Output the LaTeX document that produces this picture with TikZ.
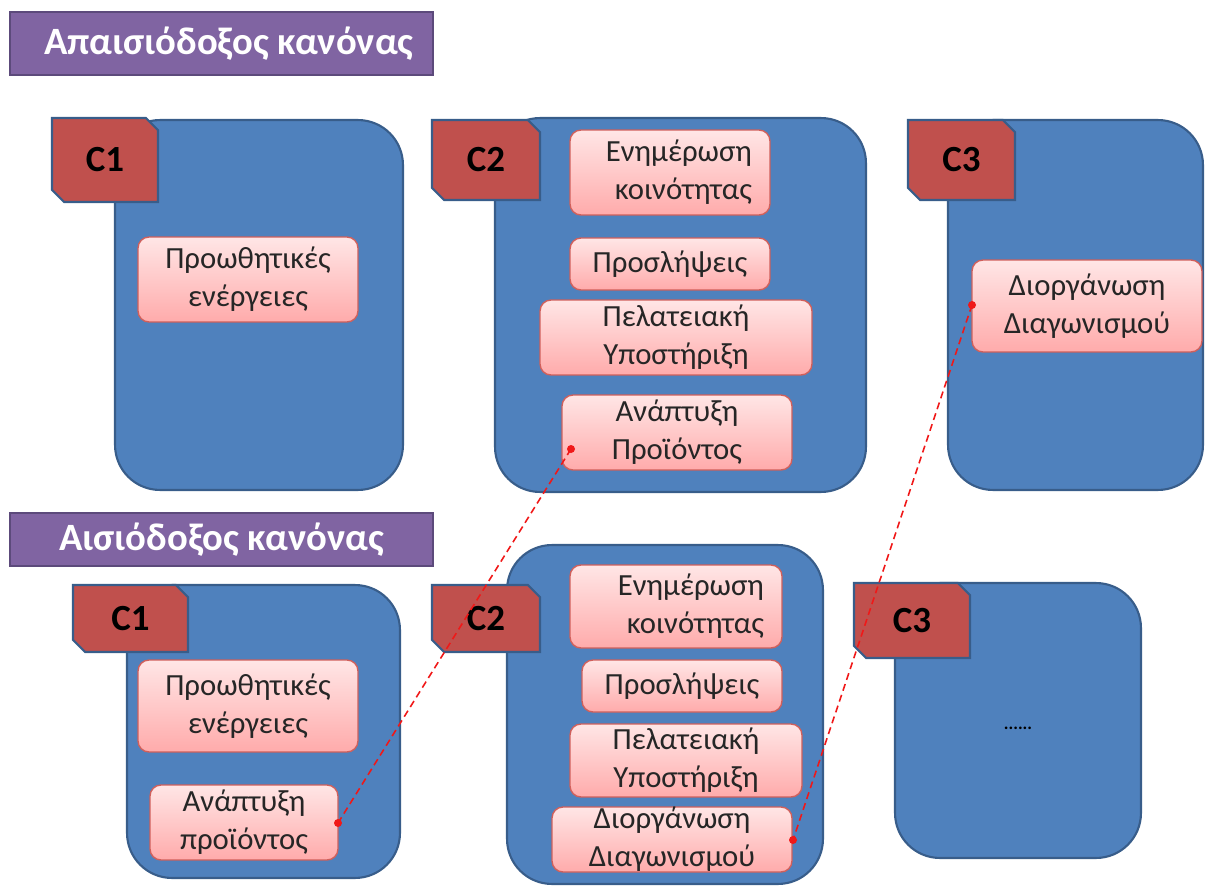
\documentclass[tikz,border=0pt]{standalone}
\usepackage{fontspec}
\setmainfont{Carlito}
\usetikzlibrary{shapes.misc}
\definecolor{boxblue}{HTML}{4F81BD}
\definecolor{boxedge}{HTML}{385D8A}
\definecolor{tagred}{HTML}{C0504D}
\definecolor{titlepurple}{HTML}{8064A2}
\definecolor{titleedge}{HTML}{5C4A7B}
\definecolor{pinktop}{HTML}{FFE6E6}
\definecolor{pinkbot}{HTML}{FFABAB}
\definecolor{pinkedge}{HTML}{D0605C}
\definecolor{linkred}{HTML}{F01818}
\begin{document}
\begin{tikzpicture}[x=0.02cm,y=-0.02cm,
  region/.style={rectangle, draw=boxedge, fill=boxblue, line width=1.2pt, rounded corners=0.9cm},
  tagbox/.style={chamfered rectangle, chamfered rectangle corners={north east,south west},
    chamfered rectangle xsep=0.12cm, chamfered rectangle ysep=0.12cm,
    draw=boxedge, fill=tagred, line width=1.2pt, inner sep=0pt,
    font=\fontsize{21}{24}\selectfont\bfseries},
  titlebox/.style={rectangle, draw=titleedge, fill=titlepurple, line width=1.2pt, text=white,
    font=\fontsize{22}{26}\selectfont\bfseries},
  task/.style={rectangle, draw=pinkedge, top color=pinktop, bottom color=pinkbot,
    rounded corners=0.22cm, line width=0.8pt, align=center, inner sep=0pt,
    font=\fontsize{17.5}{21.5}\selectfont, text=black!85},
  righttask/.style={task, align=right, inner xsep=0.36cm},
  link/.style={draw=linkred, dash pattern=on 4pt off 2.5pt, line width=0.9pt},
  dot/.style={circle, fill=linkred, inner sep=0pt, minimum size=0.16cm}]

\useasboundingbox (0,0) rectangle (1205,886);

% headings
\node[titlebox, minimum width=8.46cm, minimum height=1.26cm] (pess) at (221.5,43.5) {\hspace{0.3cm}Απαισιόδοξος κανόνας};
\node[titlebox, minimum width=8.46cm, minimum height=1.06cm] (opt) at (221.5,539.5) {Αισιόδοξος κανόνας};

% upper row of clusters
\node[region, minimum width=5.76cm, minimum height=7.4cm] (uc1) at (259,305) {};
\node[region, minimum width=7.42cm, minimum height=7.48cm] (uc2) at (680.5,305) {};
\node[region, minimum width=5.1cm, minimum height=7.4cm] (uc3) at (1075.5,305) {};
\node[tagbox, minimum width=2.12cm, minimum height=1.68cm] (ut1) at (105,160) {C1};
\node[tagbox, minimum width=2.16cm, minimum height=1.6cm] (ut2) at (486,160) {C2};
\node[tagbox, minimum width=2.14cm, minimum height=1.6cm] (ut3) at (961.5,160) {C3};

% lower row of clusters
\node[region, minimum width=5.46cm, minimum height=5.86cm] (lc1) at (263.5,731.5) {};
\node[region, minimum width=6.32cm, minimum height=6.78cm] (lc2) at (665,714.5) {};
\node[region, minimum width=4.92cm, minimum height=5.5cm] (lc3) at (1018,720.5) {};
\node[tagbox, minimum width=2.3cm, minimum height=1.34cm] (lt1) at (130.5,618.5) {C1};
\node[tagbox, minimum width=2.16cm, minimum height=1.34cm] (lt2) at (486,618.5) {C2};
\node[tagbox, minimum width=2.32cm, minimum height=1.5cm] (lt3) at (912,620.5) {C3};

% upper row tasks
\node[task, minimum width=4.4cm, minimum height=1.7cm] (up1) at (248,279.5) {Προωθητικές\\ενέργειες};
\node[righttask, text width=3.28cm, minimum height=1.7cm] (uk1) at (670,172.5) {Ενημέρωση\\κοινότητας};
\node[task, minimum width=4.0cm, minimum height=1.04cm] (uk2) at (670,264) {Προσλήψεις};
\node[task, minimum width=5.44cm, minimum height=1.5cm] (uk3) at (676,337.5) {Πελατειακή\\Υποστήριξη};
\node[task, minimum width=4.6cm, minimum height=1.5cm] (uk4) at (677,432.5) {Ανάπτυξη\\Προϊόντος};
\node[task, minimum width=4.6cm, minimum height=1.84cm] (us1) at (1087,306) {Διοργάνωση\\Διαγωνισμού};

% lower row tasks
\node[task, minimum width=4.4cm, minimum height=1.84cm] (lp1) at (248,706) {Προωθητικές\\ενέργειες};
\node[task, minimum width=3.76cm, minimum height=1.5cm] (lp2) at (244,822.5) {Ανάπτυξη\\προϊόντος};
\node[righttask, text width=3.52cm, minimum height=1.66cm] (lk1) at (676,606.5) {Ενημέρωση\\κοινότητας};
\node[task, minimum width=4.0cm, minimum height=1.04cm] (lk2) at (682,686) {Προσλήψεις};
\node[task, minimum width=4.64cm, minimum height=1.46cm] (lk3) at (686,760.5) {Πελατειακή\\Υποστήριξη};
\node[task, minimum width=4.8cm, minimum height=1.3cm] (lk4) at (672,839.5) {Διοργάνωση\\Διαγωνισμού};

\node (more) at (1018,728) {\bfseries ......};

% moved tasks
\node[dot] (a1) at (571,449) {};
\node[dot] (a2) at (338,823) {};
\node[dot] (b1) at (972,305) {};
\node[dot] (b2) at (793,840) {};
\draw[link] (a1.center) -- (a2.center);
\draw[link] (b1.center) -- (b2.center);
\end{tikzpicture}
\end{document}
